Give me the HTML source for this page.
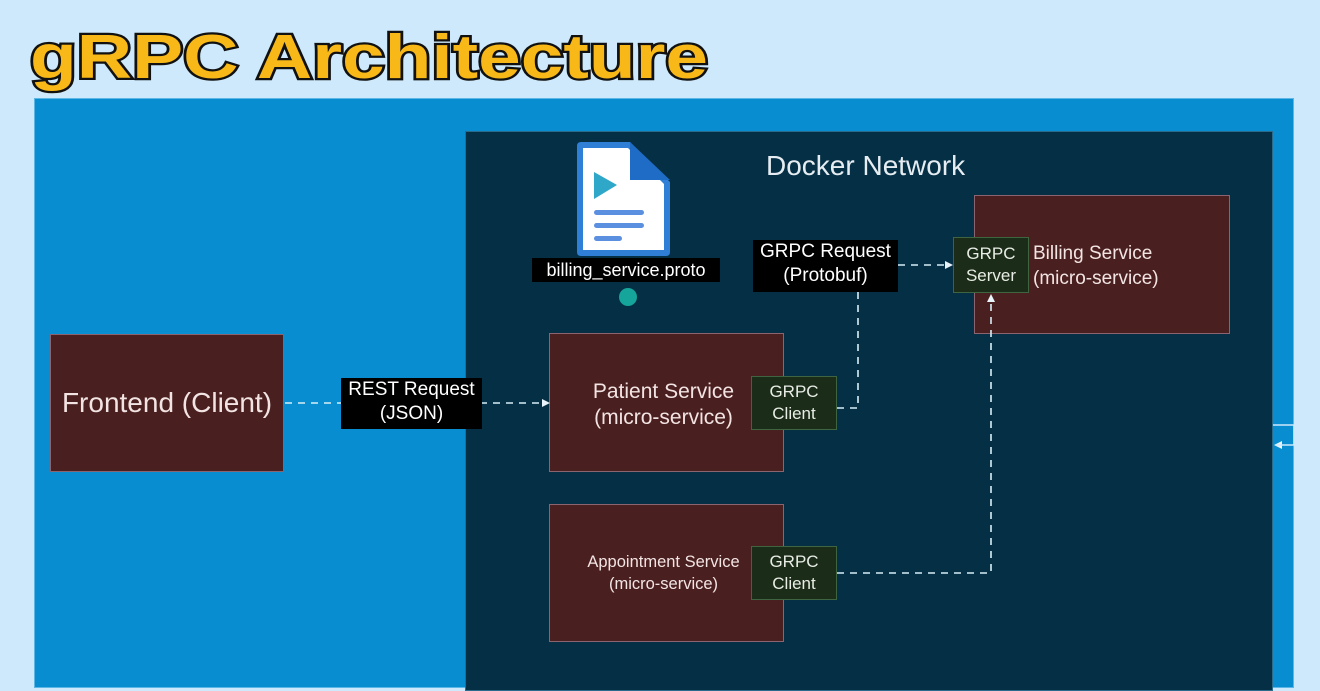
<!DOCTYPE html>
<html><head><meta charset="utf-8"><style>
html,body{margin:0;padding:0;}
body{width:1320px;height:681px;overflow:hidden;background:#cde9fb;position:relative;font-family:"Liberation Sans",Arial,sans-serif;}
.a{position:absolute;box-sizing:border-box;}
.box{background:#4a1f1f;border:1.5px solid #8c6470;color:#f3e4e4;display:flex;align-items:center;justify-content:center;text-align:center;}
.g{background:#1b2c19;border:1.5px solid #3f6440;color:#e8ede6;font-size:17px;line-height:22px;display:flex;align-items:center;justify-content:center;text-align:center;}
.lbl{background:#000;color:#fff;font-size:19px;line-height:24px;text-align:center;}
</style></head><body>
<svg class="a" style="left:0;top:0" width="720" height="100">
<text x="30" y="78" font-family="Liberation Sans" font-weight="bold" font-size="62" fill="#f7b818" stroke="#111" stroke-width="4.5" paint-order="stroke" textLength="678" lengthAdjust="spacingAndGlyphs">gRPC Architecture</text>
</svg>
<div class="a" style="left:34px;top:98px;width:1260px;height:590px;background:#078dd0;border:1px solid #5cb6e6"></div>
<div class="a" style="left:465px;top:131px;width:808px;height:560px;background:#052f44;border:1px solid #2a6a8a"></div>
<div class="a" style="left:766px;top:150px;color:#e6edf2;font-size:28px">Docker Network</div>

<div class="a box" style="left:50px;top:334px;width:234px;height:138px;font-size:28px">Frontend (Client)</div>
<div class="a box" style="left:549px;top:333px;width:235px;height:139px;font-size:21px;line-height:26px;padding-top:4px;padding-right:6px">Patient Service<br>(micro-service)</div>
<div class="a box" style="left:549px;top:504px;width:235px;height:138px;font-size:16.5px;line-height:22px;white-space:nowrap;padding-right:6px">Appointment Service<br>(micro-service)</div>
<div class="a box" style="left:974px;top:195px;width:256px;height:139px;font-size:19px;line-height:25px;justify-content:flex-start;align-items:flex-start;padding:45px 0 0 58px;text-align:left">Billing Service<br>(micro-service)</div>

<div class="a g" style="left:751px;top:376px;width:86px;height:54px">GRPC<br>Client</div>
<div class="a g" style="left:751px;top:546px;width:86px;height:54px">GRPC<br>Client</div>
<div class="a g" style="left:953px;top:237px;width:76px;height:56px">GRPC<br>Server</div>

<svg class="a" style="left:0;top:0" width="1320" height="681">
<g stroke="#d8eef8" stroke-width="1.6" stroke-dasharray="7,6" fill="none">
<path d="M285 403 H545"/>
<path d="M837 408 H858 V292"/>
<path d="M898 265 H948"/>
<path d="M837 573 H991 V300"/>
</g>
<g fill="#e8f4fa">
<polygon points="550,403 542,399 542,407"/>
<polygon points="953,265 945,261 945,269"/>
<polygon points="991,294 987,302 995,302"/>
<polygon points="1274,445 1282,441 1282,449"/>
</g>
<path d="M1273 425 H1294 V445 H1276" stroke="#cde9fb" stroke-width="1.5" fill="none"/>
<path d="M577 146 Q577 142 581 142 H630 L670 182 V252 Q670 256 666 256 H581 Q577 256 577 252 Z" fill="#2f7fd6"/>
<path d="M583 148 H628 L664 184 V250 H583 Z" fill="#fff"/>
<path d="M630 142 V180 H670" fill="#1f6cc6"/>
<polygon points="594,172 594,199 617,185" fill="#2ea7c8"/>
<rect x="594" y="210" width="50" height="5" rx="2.5" fill="#5b8fe0"/>
<rect x="594" y="223" width="50" height="5" rx="2.5" fill="#5b8fe0"/>
<rect x="594" y="236" width="28" height="5" rx="2.5" fill="#5b8fe0"/>
<circle cx="628" cy="297" r="9" fill="#15a59a"/>
</svg>
<div class="a lbl" style="left:532px;top:258px;width:188px;height:24px;font-size:18px">billing_service.proto</div>
<div class="a lbl" style="left:341px;top:378px;width:141px;height:51px">REST Request<br>(JSON)</div>
<div class="a lbl" style="left:753px;top:240px;width:145px;height:52px">GRPC Request<br>(Protobuf)</div>
</body></html>
